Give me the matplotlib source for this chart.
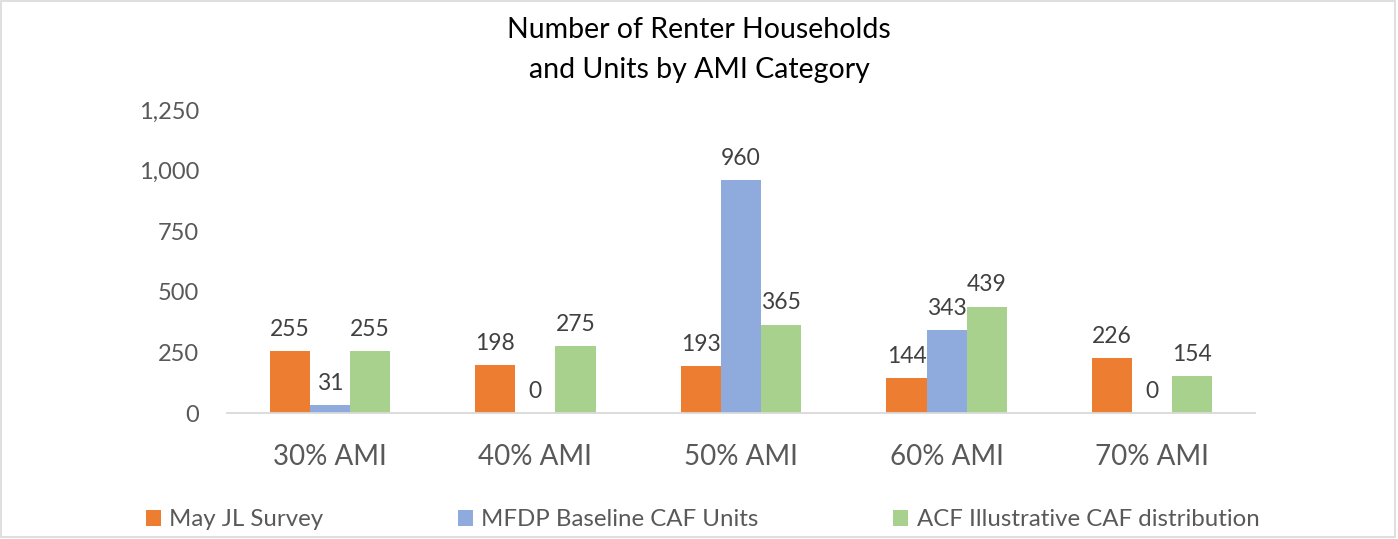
import matplotlib.pyplot as plt
import numpy as np
from matplotlib.patches import Rectangle

categories = ["30% AMI", "40% AMI", "50% AMI", "60% AMI", "70% AMI"]
series_names = ["May JL Survey", "MFDP Baseline CAF Units", "ACF Illustrative CAF distribution"]
may_jl = [255, 198, 193, 144, 226]
mfdp = [31, 0, 960, 343, 0]
acf = [255, 275, 365, 439, 154]
yticks = [0, 250, 500, 750, 1000, 1250]

colors = ["#ED7D31", "#8FAADC", "#A9D18E"]
text_color = "#595959"

plt.rcParams["font.family"] = ["Lato", "DejaVu Sans"]

fig = plt.figure(figsize=(13.98, 5.39), dpi=100)
fig.patch.set_facecolor("white")
ax = fig.add_axes([227 / 1398, 1 - 413 / 539, 1028 / 1398, 303 / 539])

x = np.arange(len(categories))
w = 0.195
for i, (vals, name, c) in enumerate(zip([may_jl, mfdp, acf], series_names, colors)):
    bars = ax.bar(x + (i - 1) * w, vals, w, color=c, label=name, zorder=2)
    ax.bar_label(bars, labels=[f"{v:,}" for v in vals], padding=8,
                 fontsize=16.5, color="#404040")

ax.set_xlim(-0.5, 4.5)
ax.set_ylim(0, 1250)
ax.set_yticks(yticks)
ax.set_yticklabels([f"{v:,}" for v in yticks])
ax.set_xticks(x)
ax.set_xticklabels(categories)
ax.tick_params(axis="y", length=0, pad=20, labelsize=17, labelcolor=text_color)
ax.tick_params(axis="x", length=0, pad=22, labelsize=20, labelcolor=text_color)
for s in ["top", "right", "left"]:
    ax.spines[s].set_visible(False)
ax.spines["bottom"].set_color("#D9D9D9")
ax.spines["bottom"].set_linewidth(1.3)

fig.text(0.5, 1 - 50 / 539, "Number of Renter Households\nand Units by AMI Category",
         ha="center", va="center", fontsize=20.5, color="#000000", linespacing=1.65)

handles, labels = ax.get_legend_handles_labels()
fig.legend(handles, labels, loc="center left", bbox_to_anchor=(134 / 1398, 1 - 520 / 539),
           ncol=3, frameon=False, fontsize=17.3, handlelength=0.62, handleheight=0.62,
           handletextpad=0.35, columnspacing=5.6, borderpad=0, labelcolor=text_color)

fig.patches.append(Rectangle((0.001, 0.004), 0.997, 0.994, transform=fig.transFigure,
                             fill=False, edgecolor="#D9D9D9", linewidth=1.2))

fig.savefig("out.png", dpi=100, facecolor="white")
